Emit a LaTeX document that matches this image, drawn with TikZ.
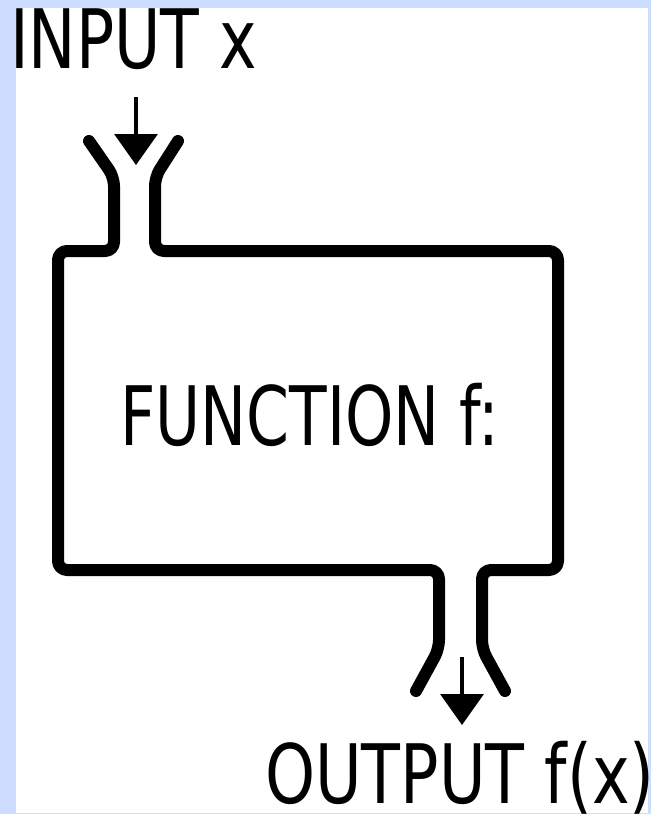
\documentclass[tikz,border=0pt]{standalone}
\usepackage{fontspec}
\setmainfont{DejaVu Sans}
\usetikzlibrary{arrows.meta}
\definecolor{bgblue}{RGB}{204,221,255}
\begin{document}
\begin{tikzpicture}[x=1pt,y=-1pt,
  wall/.style={line width=12pt,line cap=round,line join=round,rounded corners=9pt},
  flow/.style={line width=3.5pt,-{Triangle[width=43pt,length=31pt]}},
  label/.style={inner sep=0pt,anchor=base west,xscale=0.75,font=\fontsize{82}{82}\selectfont}]
\useasboundingbox (0,0) rectangle (651,814);
\fill[bgblue] (0,0) rectangle (651,814);
\fill[white] (16,8) rectangle (648,812.5);
% coordinates
\coordinate (tl1) at (89,141);
\coordinate (tl2) at (114,177);
\coordinate (tl3) at (114,251);
\coordinate (bxtl) at (58,251);
\coordinate (bxbl) at (58,570);
\coordinate (bl1) at (439,570);
\coordinate (bl2) at (439,649);
\coordinate (bl3) at (416,691);
\coordinate (tr1) at (178,141);
\coordinate (tr2) at (155,177);
\coordinate (tr3) at (155,251);
\coordinate (bxtr) at (558,251);
\coordinate (bxbr) at (558,570);
\coordinate (br1) at (482,570);
\coordinate (br2) at (482,649);
\coordinate (br3) at (505,691);
\coordinate (inA) at (136,97);
\coordinate (inB) at (136,165);
\coordinate (outA) at (462,657);
\coordinate (outB) at (462,725);
% walls
\draw[wall] (tl1) -- (tl2) -- (tl3) -- (bxtl) -- (bxbl) -- (bl1) -- (bl2) -- (bl3);
\draw[wall] (tr1) -- (tr2) -- (tr3) -- (bxtr) -- (bxbr) -- (br1) -- (br2) -- (br3);
% arrows
\draw[flow] (inA) -- (inB);
\draw[flow] (outA) -- (outB);
% labels
\node[label,xscale=1.03] (input) at (10,68) {INPUT x};
\node[label] (func) at (120,445) {FUNCTION f:};
\node[label,xscale=1.035] (output) at (265,803) {OUTPUT f(x)};
\end{tikzpicture}
\end{document}
